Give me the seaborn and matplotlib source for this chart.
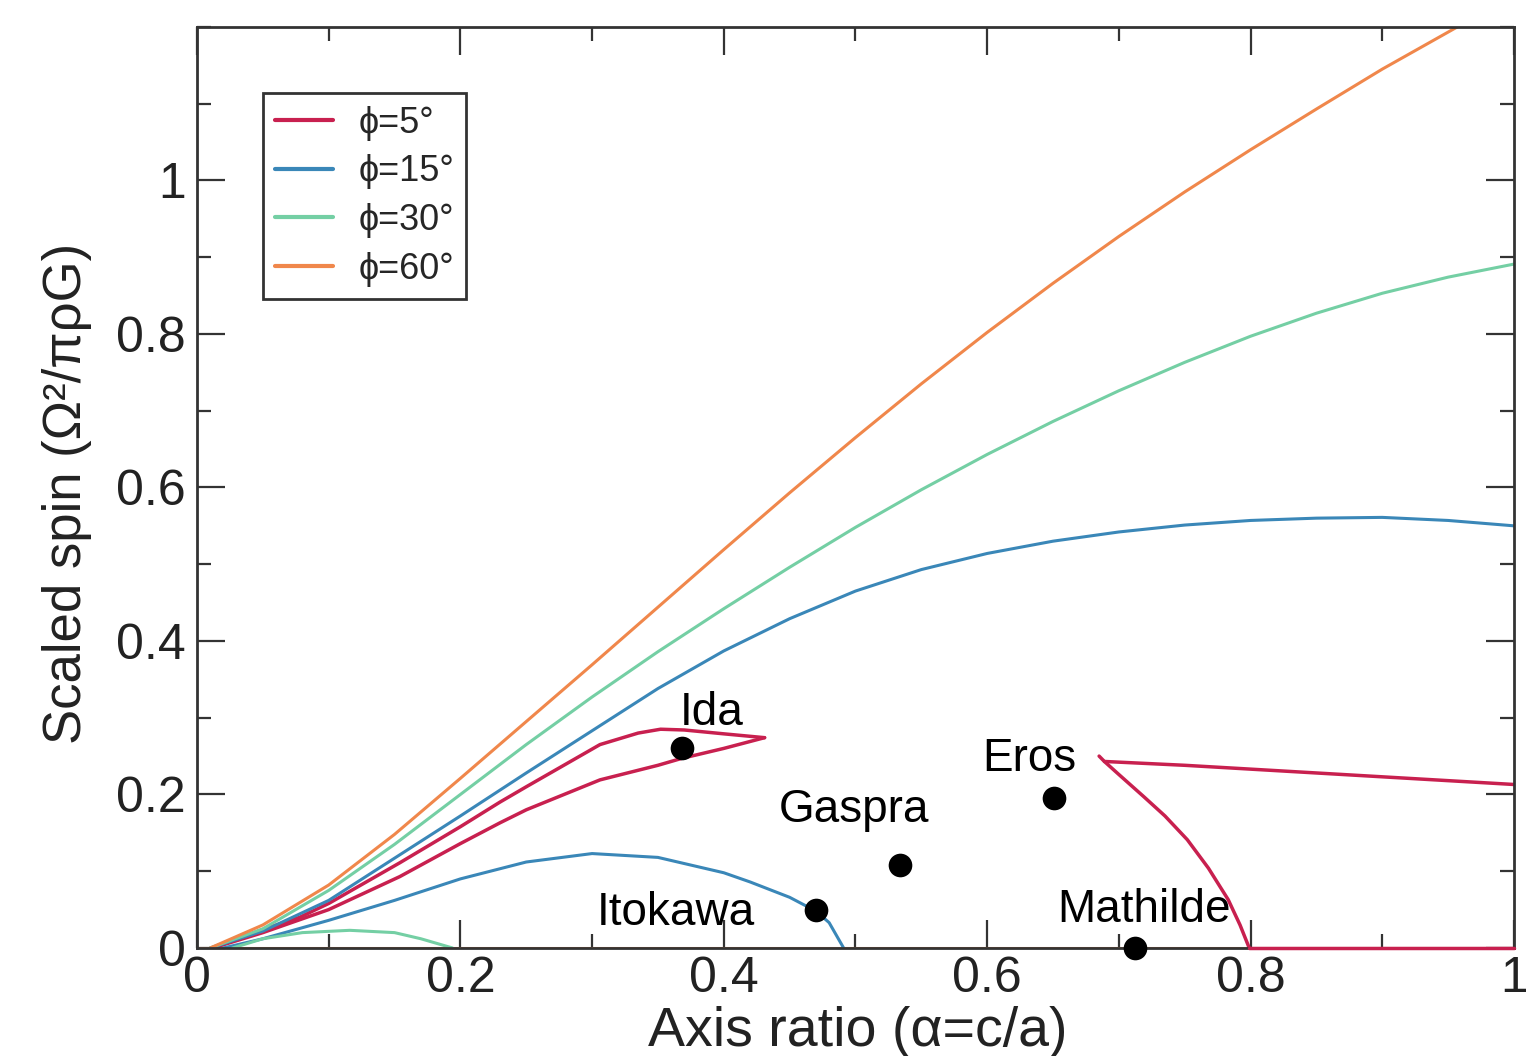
import matplotlib
matplotlib.use("Agg")
import matplotlib.pyplot as plt
import seaborn as sns
from matplotlib.ticker import MultipleLocator, FuncFormatter

# ---------------- data ----------------
# phi = 60 deg
phi60_x = [0.01, 0.05, 0.10, 0.15, 0.20, 0.25, 0.30, 0.35, 0.40, 0.45, 0.50,
           0.55, 0.60, 0.65, 0.70, 0.75, 0.80, 0.85, 0.90, 0.957]
phi60_y = [0.0, 0.03, 0.082, 0.148, 0.221, 0.295, 0.369, 0.444, 0.519, 0.593, 0.665,
           0.735, 0.802, 0.866, 0.927, 0.985, 1.04, 1.093, 1.145, 1.2]
phi60_low_x = [0.0, 1.0]
phi60_low_y = [0.0, 0.0]

# phi = 30 deg
phi30_x = [0.01, 0.05, 0.10, 0.15, 0.20, 0.25, 0.30, 0.35, 0.40, 0.45, 0.50,
           0.55, 0.60, 0.65, 0.70, 0.75, 0.80, 0.85, 0.90, 0.95, 1.0]
phi30_y = [0.0, 0.025, 0.075, 0.135, 0.20, 0.265, 0.327, 0.386, 0.442, 0.496, 0.548,
           0.597, 0.643, 0.686, 0.726, 0.763, 0.797, 0.827, 0.853, 0.874, 0.891]
phi30_low_x = [0.027, 0.05, 0.08, 0.116, 0.15, 0.17, 0.194]
phi30_low_y = [0.0, 0.012, 0.02, 0.023, 0.02, 0.012, 0.0]

# phi = 15 deg
phi15_x = [0.01, 0.05, 0.10, 0.15, 0.20, 0.25, 0.30, 0.35, 0.40, 0.45, 0.50,
           0.55, 0.60, 0.65, 0.70, 0.75, 0.80, 0.85, 0.90, 0.95, 1.0]
phi15_y = [0.0, 0.022, 0.062, 0.117, 0.172, 0.228, 0.283, 0.338, 0.387, 0.429, 0.465,
           0.493, 0.514, 0.530, 0.542, 0.551, 0.557, 0.560, 0.561, 0.557, 0.55]
phi15_low_x = [0.02, 0.05, 0.10, 0.15, 0.20, 0.25, 0.30, 0.35, 0.40, 0.42,
               0.45, 0.47, 0.48, 0.491]
phi15_low_y = [0.0, 0.012, 0.036, 0.062, 0.09, 0.112, 0.123, 0.118, 0.098, 0.086,
               0.066, 0.048, 0.033, 0.0]

# phi = 5 deg (loop near Ida, and branch on the right)
phi5_up_x = [0.012, 0.05, 0.078, 0.10, 0.154, 0.20, 0.23, 0.25, 0.306, 0.335,
             0.352, 0.37, 0.40, 0.431]
phi5_up_y = [0.0, 0.024, 0.04, 0.058, 0.111, 0.158, 0.19, 0.21, 0.265, 0.28,
             0.285, 0.284, 0.279, 0.274]
phi5_lo_x = [0.012, 0.05, 0.10, 0.154, 0.20, 0.23, 0.25, 0.306, 0.35, 0.368, 0.40, 0.431]
phi5_lo_y = [0.0, 0.02, 0.05, 0.093, 0.136, 0.163, 0.18, 0.219, 0.238, 0.247, 0.26, 0.274]
phi5_r_up_x = [0.685, 0.689, 0.75, 0.80, 0.85, 0.90, 0.95, 1.0]
phi5_r_up_y = [0.25, 0.243, 0.238, 0.233, 0.228, 0.223, 0.218, 0.213]
phi5_r_lo_x = [0.689, 0.70, 0.719, 0.735, 0.752, 0.768, 0.783, 0.792, 0.799]
phi5_r_lo_y = [0.243, 0.226, 0.197, 0.172, 0.141, 0.104, 0.063, 0.03, 0.0]
phi5_zero_x = [0.799, 1.0]
phi5_zero_y = [0.0, 0.0]

# asteroids
ast_names = ["Ida", "Itokawa", "Gaspra", "Eros", "Mathilde"]
ast_x = [0.368, 0.47, 0.534, 0.651, 0.712]
ast_y = [0.26, 0.05, 0.108, 0.195, 0.0]
lab_x = [0.391, 0.364, 0.499, 0.632, 0.719]
lab_y = [0.291, 0.030, 0.164, 0.230, 0.034]

legend_labels = ["ϕ=5°", "ϕ=15°", "ϕ=30°", "ϕ=60°"]

# ---------------- style ----------------
sns.set_style("ticks")
plt.rcParams["font.family"] = ["Liberation Sans", "DejaVu Sans"]

C5 = "#c8204f"
C15 = "#3a87b8"
C30 = "#74cfa4"
C60 = "#f0874b"

fig = plt.figure(figsize=(15.26, 10.56), dpi=100)
ax = fig.add_axes([0.1291, 0.1023, 0.863, 0.8722])

def line(x, y, color, lw, label=None, z=2, clip=True):
    sns.lineplot(x=x, y=y, sort=False, estimator=None, color=color, lw=lw,
                 label=label, ax=ax, zorder=z, clip_on=clip, legend=False)

line(phi60_low_x, phi60_low_y, C60, 2.2, z=1)
line(phi5_up_x, phi5_up_y, C5, 2.5, label=legend_labels[0])
line(phi5_lo_x, phi5_lo_y, C5, 2.5)
line(phi5_r_up_x, phi5_r_up_y, C5, 2.5)
line(phi5_r_lo_x, phi5_r_lo_y, C5, 2.5)
line(phi5_zero_x, phi5_zero_y, C5, 2.5, z=3, clip=False)
line(phi15_x, phi15_y, C15, 2.2, label=legend_labels[1])
line(phi15_low_x, phi15_low_y, C15, 2.2)
line(phi30_x, phi30_y, C30, 2.2, label=legend_labels[2])
line(phi30_low_x, phi30_low_y, C30, 2.2)
line(phi60_x, phi60_y, C60, 2.2, label=legend_labels[3])

sns.scatterplot(x=ast_x, y=ast_y, color="black", s=290, linewidth=0, ax=ax,
                zorder=4, clip_on=False, legend=False)
for name, tx, ty in zip(ast_names, lab_x, lab_y):
    ax.text(tx, ty, name, fontsize=33, ha="center", va="baseline", color="black", zorder=5)

ax.set_xlim(0, 1)
ax.set_ylim(0, 1.2)
ax.xaxis.set_major_locator(MultipleLocator(0.2))
ax.xaxis.set_minor_locator(MultipleLocator(0.1))
ax.set_yticks([0, 0.2, 0.4, 0.6, 0.8, 1.0])
ax.yaxis.set_minor_locator(MultipleLocator(0.1))
fmt = FuncFormatter(lambda v, p: f"{v:g}")
ax.xaxis.set_major_formatter(fmt)
ax.yaxis.set_major_formatter(fmt)

ax.tick_params(which="both", direction="in", top=True, right=True,
               color="#333333", width=1.6, labelcolor="#222222", labelsize=36)
ax.tick_params(which="major", length=20)
ax.tick_params(which="minor", length=10)
ax.tick_params(axis="x", which="major", pad=6)
ax.tick_params(axis="y", which="major", pad=8)

for sp in ax.spines.values():
    sp.set_color("#333333")
    sp.set_linewidth(2.0)
    sp.set_visible(True)

ax.set_xlabel("Axis ratio (α=c/a)", fontsize=40, color="#222222")
ax.xaxis.set_label_coords(0.502, -0.063)
ax.set_ylabel("Scaled spin (Ω²/πρG)", fontsize=38, color="#222222")
ax.yaxis.set_label_coords(-0.08, 0.494)

handles, labels = ax.get_legend_handles_labels()
leg = ax.legend(handles, labels, loc="upper left", bbox_to_anchor=(0.050, 0.928),
                borderaxespad=0, fontsize=26, frameon=True, fancybox=False,
                framealpha=1, edgecolor="#333333", labelspacing=0.38,
                borderpad=0.34, handlelength=1.6, handletextpad=0.7)
leg.get_frame().set_linewidth(2.0)
for h in leg.get_lines():
    h.set_linewidth(3)

fig.savefig("out.png", dpi=100)
